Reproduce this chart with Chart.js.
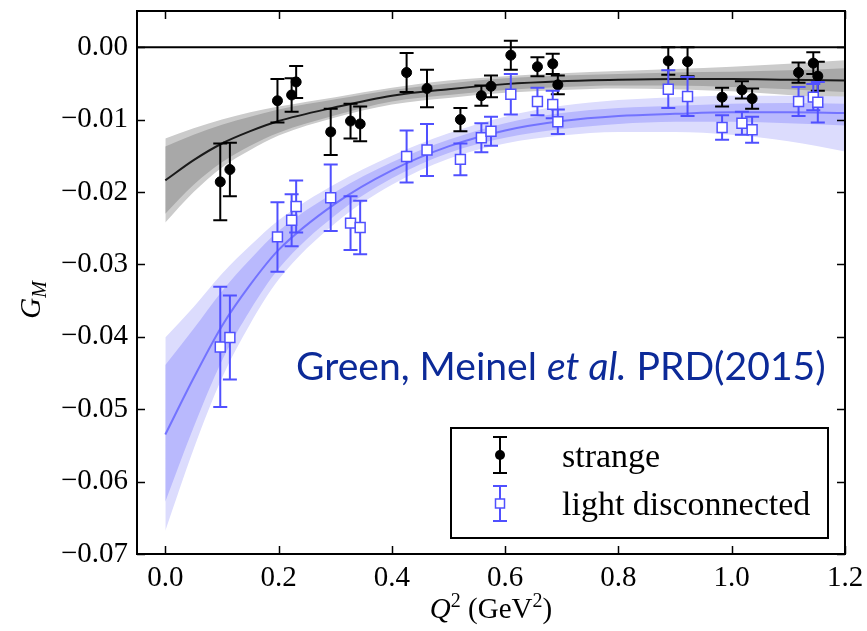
<!DOCTYPE html>
<html>
<head>
  <meta charset="UTF-8">
  <title>Strange and light disconnected G_M</title>
  <script src="https://cdn.jsdelivr.net/npm/chart.js"></script>
  <style>
    body {
      margin: 0;
      background: #fff;
    }
    .chart-container {
      width: 867px;
      height: 631px;
    }
  </style>
</head>
<body>
  <div class="chart-container">
    <canvas id="gmChart" width="867" height="631"></canvas>
  </div>

  <script>
    // lattice Q^2 values (GeV^2), same for both series
    const q2Points = [0.097, 0.114, 0.198, 0.223, 0.231, 0.292, 0.327, 0.344, 0.426, 0.462, 0.521, 0.558, 0.575,
                      0.610, 0.657, 0.684, 0.693, 0.888, 0.922, 0.983, 1.018, 1.036, 1.118, 1.144, 1.152];

    const strangeGM = [-0.0186, -0.0169, -0.0074, -0.0066, -0.0048, -0.0117, -0.0102, -0.0106, -0.0035, -0.0057,
                       -0.0100, -0.0067, -0.0054, -0.0011, -0.0027, -0.0023, -0.0052, -0.0019, -0.0020, -0.0069,
                       -0.0059, -0.0071, -0.0035, -0.0022, -0.0040];
    const strangeErr = [0.0053, 0.0037, 0.0030, 0.0023, 0.0022, 0.0032, 0.0024, 0.0024, 0.0027, 0.0026,
                        0.0016, 0.0014, 0.0015, 0.0020, 0.0013, 0.0014, 0.0013, 0.0019, 0.0020, 0.0013,
                        0.0012, 0.0014, 0.0014, 0.0015, 0.0020];

    const lightGM = [-0.0414, -0.0401, -0.0262, -0.0239, -0.0220, -0.0208, -0.0243, -0.0249, -0.0151, -0.0142,
                     -0.0155, -0.0125, -0.0116, -0.0065, -0.0075, -0.0079, -0.0103, -0.0058, -0.0068, -0.0111,
                     -0.0105, -0.0114, -0.0075, -0.0069, -0.0076];
    const lightErr = [0.0083, 0.0058, 0.0048, 0.0036, 0.0036, 0.0046, 0.0037, 0.0037, 0.0036, 0.0036,
                      0.0022, 0.0020, 0.0020, 0.0028, 0.0019, 0.0019, 0.0017, 0.0026, 0.0027, 0.0017,
                      0.0016, 0.0018, 0.0020, 0.0018, 0.0028];

    // z-expansion fits and their two error bands
    const fitQ2 = [0, 0.05, 0.1, 0.15, 0.2, 0.3, 0.4, 0.5, 0.6, 0.7, 0.8, 0.9, 1.0, 1.1, 1.2];

    const strangeFit     = [-0.0184, -0.0156, -0.0133, -0.0116, -0.0102, -0.0083, -0.0067, -0.0058, -0.0051, -0.0047, -0.0045, -0.0044, -0.0044, -0.0045, -0.0046];
    const strangeInnerHi = [-0.0137, -0.0121, -0.0107, -0.0096, -0.0086, -0.0072, -0.0059, -0.0050, -0.0043, -0.0039, -0.0037, -0.0035, -0.0034, -0.0032, -0.0029];
    const strangeInnerLo = [-0.0230, -0.0190, -0.0159, -0.0136, -0.0118, -0.0094, -0.0075, -0.0066, -0.0059, -0.0055, -0.0053, -0.0053, -0.0055, -0.0058, -0.0062];
    const strangeOuterHi = [-0.0126, -0.0112, -0.0100, -0.0090, -0.0082, -0.0069, -0.0056, -0.0046, -0.0040, -0.0036, -0.0033, -0.0030, -0.0027, -0.0023, -0.0018];
    const strangeOuterLo = [-0.0242, -0.0200, -0.0166, -0.0142, -0.0122, -0.0097, -0.0079, -0.0070, -0.0063, -0.0059, -0.0057, -0.0058, -0.0061, -0.0066, -0.0073];

    const lightFit     = [-0.0535, -0.0457, -0.0385, -0.0328, -0.0280, -0.0216, -0.0170, -0.0137, -0.0115, -0.0102, -0.0095, -0.0092, -0.0090, -0.0090, -0.0091];
    const lightInnerHi = [-0.0439, -0.0389, -0.0337, -0.0293, -0.0254, -0.0200, -0.0159, -0.0128, -0.0105, -0.0091, -0.0084, -0.0081, -0.0078, -0.0077, -0.0078];
    const lightInnerLo = [-0.0628, -0.0525, -0.0433, -0.0363, -0.0306, -0.0232, -0.0181, -0.0146, -0.0125, -0.0113, -0.0106, -0.0103, -0.0103, -0.0105, -0.0108];
    const lightOuterHi = [-0.0401, -0.0359, -0.0313, -0.0274, -0.0239, -0.0189, -0.0150, -0.0119, -0.0096, -0.0081, -0.0073, -0.0069, -0.0067, -0.0067, -0.0068];
    const lightOuterLo = [-0.0668, -0.0555, -0.0457, -0.0382, -0.0321, -0.0243, -0.0190, -0.0154, -0.0133, -0.0122, -0.0117, -0.0117, -0.0121, -0.0130, -0.0144];

    const zeroLineQ2 = [-0.05, 1.2];
    const zeroLineGM = [0, 0];

    const seriesNames = ['strange', 'light disconnected'];
    const citation = ['Green, Meinel ', 'et al.', ' PRD(2015)'];

    const serif = '"Liberation Serif", "DejaVu Serif", serif';
    const blue = '#5050ff';

    function pts(xs, ys) {
      return xs.map((x, i) => ({ x: x, y: ys[i] }));
    }

    // upper edge fills down to the lower edge that follows it
    function band(hi, lo, color, order) {
      return [
        { data: pts(fitQ2, hi), fill: '+1', backgroundColor: color, borderWidth: 0, pointRadius: 0,
          cubicInterpolationMode: 'monotone', order: order },
        { data: pts(fitQ2, lo), fill: false, borderWidth: 0, pointRadius: 0,
          cubicInterpolationMode: 'monotone', order: order }
      ];
    }

    function fitLine(ys, color, order) {
      return { data: pts(fitQ2, ys), borderColor: color, borderWidth: 2, pointRadius: 0, fill: false,
               cubicInterpolationMode: 'monotone', order: order };
    }

    const datasets = [
      // markers first so they sit on top
      { data: pts(q2Points, lightGM), errors: lightErr, errColor: blue, showLine: false,
        pointStyle: 'rect', pointRadius: 7, pointBackgroundColor: '#fff', pointBorderColor: blue,
        pointBorderWidth: 1.5, order: 0 },
      { data: pts(q2Points, strangeGM), errors: strangeErr, errColor: '#000', showLine: false,
        pointStyle: 'circle', pointRadius: 5, pointBackgroundColor: '#000', pointBorderColor: '#000',
        pointBorderWidth: 1, order: 1 },
      fitLine(lightFit, '#7373ff', 2),
      fitLine(strangeFit, '#1a1a1a', 2),
      { data: pts(zeroLineQ2, zeroLineGM), borderColor: '#000', borderWidth: 2, pointRadius: 0, fill: false, order: 2 },
      ...band(lightInnerHi, lightInnerLo, '#b9b9fd', 3),
      ...band(lightOuterHi, lightOuterLo, '#dcdcfd', 4),
      ...band(strangeInnerHi, strangeInnerLo, '#a8a8a8', 5),
      ...band(strangeOuterHi, strangeOuterLo, '#cbcbcb', 6)
    ];

    function drawErrorBar(ctx, x, yTop, yBot, color) {
      ctx.strokeStyle = color;
      ctx.lineWidth = 2;
      ctx.beginPath();
      ctx.moveTo(x, yTop); ctx.lineTo(x, yBot);
      ctx.moveTo(x - 7, yTop); ctx.lineTo(x + 7, yTop);
      ctx.moveTo(x - 7, yBot); ctx.lineTo(x + 7, yBot);
      ctx.stroke();
    }

    const extras = {
      id: 'extras',
      beforeDatasetDraw(chart, args) {
        const ds = chart.data.datasets[args.index];
        if (!ds.errors) return;
        const { ctx, chartArea, scales: { x, y } } = chart;
        ctx.save();
        ctx.beginPath();
        ctx.rect(chartArea.left, chartArea.top, chartArea.width, chartArea.height);
        ctx.clip();
        ds.data.forEach((p, i) => {
          const px = x.getPixelForValue(p.x);
          drawErrorBar(ctx, px, y.getPixelForValue(p.y + ds.errors[i]), y.getPixelForValue(p.y - ds.errors[i]), ds.errColor);
        });
        ctx.restore();
      },
      afterDraw(chart) {
        const { ctx, chartArea: a, scales: { x, y } } = chart;
        ctx.save();

        // inward ticks on all four sides
        ctx.strokeStyle = '#000';
        ctx.lineWidth = 1.5;
        ctx.beginPath();
        x.ticks.forEach(t => {
          const px = Math.round(x.getPixelForValue(t.value)) + 0.5;
          ctx.moveTo(px, a.bottom); ctx.lineTo(px, a.bottom - 8);
          ctx.moveTo(px, a.top); ctx.lineTo(px, a.top + 8);
        });
        y.ticks.forEach(t => {
          const py = Math.round(y.getPixelForValue(t.value)) + 0.5;
          ctx.moveTo(a.left, py); ctx.lineTo(a.left + 8, py);
          ctx.moveTo(a.right, py); ctx.lineTo(a.right - 8, py);
        });
        ctx.stroke();

        ctx.lineWidth = 2;
        ctx.strokeRect(a.left, a.top, a.width, a.height);

        // axis titles
        ctx.fillStyle = '#000';
        ctx.textBaseline = 'alphabetic';
        const cx = (a.left + a.right) / 2;
        const parts = [
          { t: 'Q', f: 'italic 29px ' + serif, dy: 0 },
          { t: '2', f: '20px ' + serif, dy: -11 },
          { t: ' (GeV', f: '29px ' + serif, dy: 0 },
          { t: '2', f: '20px ' + serif, dy: -11 },
          { t: ')', f: '29px ' + serif, dy: 0 }
        ];
        let total = 0;
        parts.forEach(p => { ctx.font = p.f; p.w = ctx.measureText(p.t).width; total += p.w; });
        let tx = cx - total / 2;
        parts.forEach(p => { ctx.font = p.f; ctx.fillText(p.t, tx, 618 + p.dy); tx += p.w; });

        ctx.save();
        ctx.translate(40, 300);
        ctx.rotate(-Math.PI / 2);
        ctx.font = 'italic 29px ' + serif;
        const gw = ctx.measureText('G').width;
        ctx.font = 'italic 20px ' + serif;
        const mw = ctx.measureText('M').width;
        let gx = -(gw + mw) / 2;
        ctx.font = 'italic 29px ' + serif;
        ctx.fillText('G', gx, 0);
        ctx.font = 'italic 20px ' + serif;
        ctx.fillText('M', gx + gw, 6);
        ctx.restore();

        // citation
        ctx.fillStyle = '#0c2a98';
        const cf = ['40px Lato', 'italic 40px Lato', '40px Lato'];
        let cw = 0;
        citation.forEach((s, i) => { ctx.font = cf[i]; cw += ctx.measureText(s).width; });
        const scale = 530 / cw;
        let sx = 296;
        citation.forEach((s, i) => {
          ctx.font = cf[i].replace('40px', (40 * scale).toFixed(1) + 'px');
          ctx.fillText(s, sx, 380);
          sx += ctx.measureText(s).width;
        });

        // legend
        const lx = a.right - 394, ly = a.bottom - 126, lw = 377, lh = 110;
        ctx.fillStyle = '#fff';
        ctx.fillRect(lx, ly, lw, lh);
        ctx.strokeStyle = '#000';
        ctx.lineWidth = 2;
        ctx.strokeRect(lx, ly, lw, lh);

        const mx = lx + 49;
        drawErrorBar(ctx, mx, ly + 9, ly + 45, '#000');
        ctx.fillStyle = '#000';
        ctx.beginPath();
        ctx.arc(mx, ly + 27, 5, 0, Math.PI * 2);
        ctx.fill();

        drawErrorBar(ctx, mx, ly + 58, ly + 93, blue);
        ctx.fillStyle = '#fff';
        ctx.fillRect(mx - 4.5, ly + 71, 9, 9);
        ctx.strokeStyle = blue;
        ctx.lineWidth = 1.5;
        ctx.strokeRect(mx - 4.5, ly + 71, 9, 9);

        ctx.fillStyle = '#000';
        ctx.font = '34px ' + serif;
        ctx.fillText(seriesNames[0], lx + 111, ly + 39);
        ctx.fillText(seriesNames[1], lx + 111, ly + 87);

        ctx.restore();
      }
    };

    new Chart(document.getElementById('gmChart'), {
      type: 'line',
      data: { datasets: datasets },
      options: {
        responsive: false,
        animation: false,
        layout: { padding: { top: 11, right: 22, bottom: 0, left: 0 } },
        plugins: {
          legend: { display: false },
          tooltip: { enabled: false }
        },
        scales: {
          x: {
            type: 'linear',
            min: -0.05,
            max: 1.2,
            grid: { display: false, drawTicks: false },
            border: { display: false },
            ticks: {
              stepSize: 0.2,
              includeBounds: false,
              autoSkip: false,
              maxRotation: 0,
              padding: 7,
              color: '#000',
              font: { family: serif, size: 29 },
              callback: v => v.toFixed(1)
            },
            afterFit(s) {
              s.height = 77;
              s.paddingLeft = 0;
              s.paddingRight = 0;
            }
          },
          y: {
            type: 'linear',
            min: -0.07,
            max: 0.005,
            grid: { display: false, drawTicks: false },
            border: { display: false },
            ticks: {
              stepSize: 0.01,
              includeBounds: false,
              autoSkip: false,
              padding: 9,
              color: '#000',
              font: { family: serif, size: 29 },
              callback: v => {
                const r = Math.round(v * 100) / 100;
                return (r < 0 ? '\u2212' : '') + Math.abs(r).toFixed(2);
              }
            },
            afterFit(s) {
              s.width = 137;
              s.paddingTop = 0;
              s.paddingBottom = 0;
            }
          }
        }
      },
      plugins: [extras]
    });
  </script>
</body>
</html>
